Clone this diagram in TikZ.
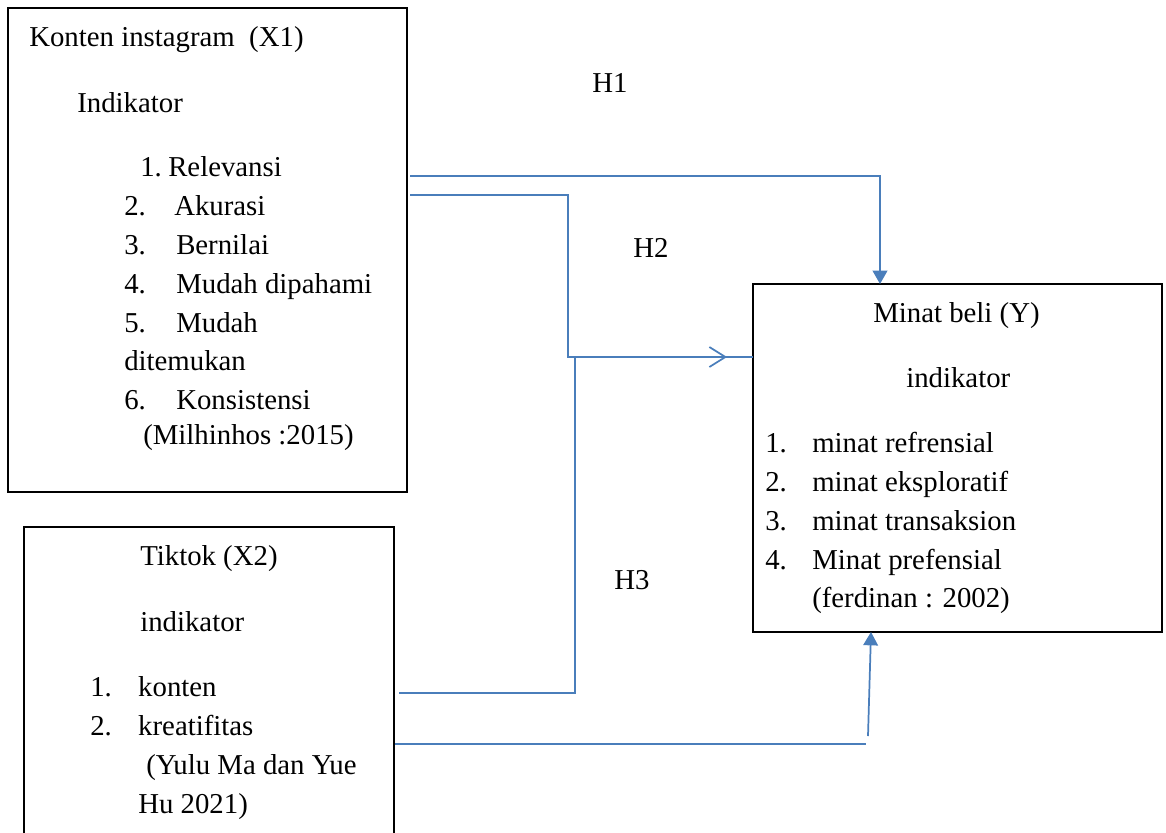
\documentclass[tikz,border=0pt]{standalone}
\usepackage{fontspec}
\setmainfont{Liberation Serif}
\usetikzlibrary{arrows.meta,calc}

\begin{document}
\begin{tikzpicture}[
    x=0.75pt, y=-0.75pt,
    font=\fontsize{21.6}{26}\selectfont,
    box/.style={
        draw=black,
        line width=0.9pt,
        inner sep=0pt,
        outer sep=0pt
    },
    txt/.style={
        anchor=base west,
        inner sep=0pt
    },
    conn/.style={
        draw=linkblue,
        line width=1.3pt
    },
    tip/.style={-{Triangle[length=10pt,width=11pt]}},
    barb/.style={-{Straight Barb[length=12pt,width=15pt,line width=1.3pt]}}
]
\definecolor{linkblue}{HTML}{4A7EBB}
\useasboundingbox (0,0) rectangle (1166,832);

% boxes
\node[box, minimum width=299.25pt, minimum height=363pt] (x1box) at (207.5,250) {};
\node[box, minimum width=277.5pt, minimum height=240pt] (x2box) at (209,687) {};
\node[box, minimum width=306.75pt, minimum height=261pt] (ybox) at (957.5,458) {};

% konten instagram
\node[txt] (x1title) at (29,46) {Konten instagram~ (X1)};
\node[txt] (x1ind) at (77,112) {Indikator};
\node[txt] (x1a) at (140,176) {\makebox[21pt][l]{1.}Relevansi};
\node[txt] (x1b) at (124,215) {\makebox[37.5pt][l]{2.}Akurasi};
\node[txt] (x1c) at (124,254) {\makebox[39pt][l]{3.}Bernilai};
\node[txt] (x1d) at (124,293) {\makebox[39pt][l]{4.}Mudah dipahami};
\node[txt] (x1e) at (124,332) {\makebox[39pt][l]{5.}Mudah};
\node[txt] (x1f) at (124,370) {ditemukan};
\node[txt] (x1g) at (124,409) {\makebox[39pt][l]{6.}Konsistensi};
\node[txt] (x1ref) at (143,444) {(Milhinhos :2015)};

% tiktok
\node[txt] (x2title) at (140,565) {Tiktok (X2)};
\node[txt] (x2ind) at (140,631) {indikator};
\node[txt] (x2a) at (90,696) {\makebox[36pt][l]{1.}konten};
\node[txt] (x2b) at (90,735) {\makebox[36pt][l]{2.}kreatifitas};
\node[txt] (x2ref) at (146,774) {(Yulu Ma dan Yue};
\node[txt] (x2refb) at (138,813) {Hu 2021)};

% minat beli
\node[txt] (ytitle) at (873,322) {Minat beli (Y)};
\node[txt] (yind) at (906,387) {indikator};
\node[txt] (ya) at (765,452) {\makebox[35.25pt][l]{1.}minat refrensial};
\node[txt] (yb) at (765,491) {\makebox[35.25pt][l]{2.}minat eksploratif};
\node[txt] (yc) at (765,530) {\makebox[35.25pt][l]{3.}minat transaksion};
\node[txt] (yd) at (765,569) {\makebox[35.25pt][l]{4.}Minat prefensial};
\node[txt] (yref) at (812,607) {(ferdinan : 2002)};

% hypothesis labels
\node[txt] (h1) at (592,92) {H1};
\node[txt] (h2) at (633,257) {H2};
\node[txt] (h3) at (614,589) {H3};

% connector points
\coordinate (h1s) at ($(x1box.north east)+(3,168)$);
\coordinate (h1e) at ($(ybox.north west)+(127,0)$);
\coordinate (h2s) at ($(x1box.north east)+(3,187)$);
\coordinate (h2m) at (568,357);
\coordinate (h2tip) at (727,357);
\coordinate (yin) at ($(ybox.north west)+(0,73)$);
\coordinate (h3s) at ($(x2box.north east)+(5,166)$);
\coordinate (h3m) at (575,357);
\coordinate (h4s) at ($(x2box.north east)+(1,217)$);
\coordinate (h4m) at (866,744);
\coordinate (h4b) at (868,736);
\coordinate (h4e) at ($(ybox.south west)+(118,0)$);

\draw[conn,tip] (h1s) -| (h1e);
\draw[conn] (h2s) -| (h2m) -- (yin);
\draw[conn,barb] (h2m) -- (h2tip);
\draw[conn] (h3s) -| (h3m);
\draw[conn] (h4s) -- (h4m);
\draw[conn,tip] (h4b) -- (h4e);

\end{tikzpicture}
\end{document}
